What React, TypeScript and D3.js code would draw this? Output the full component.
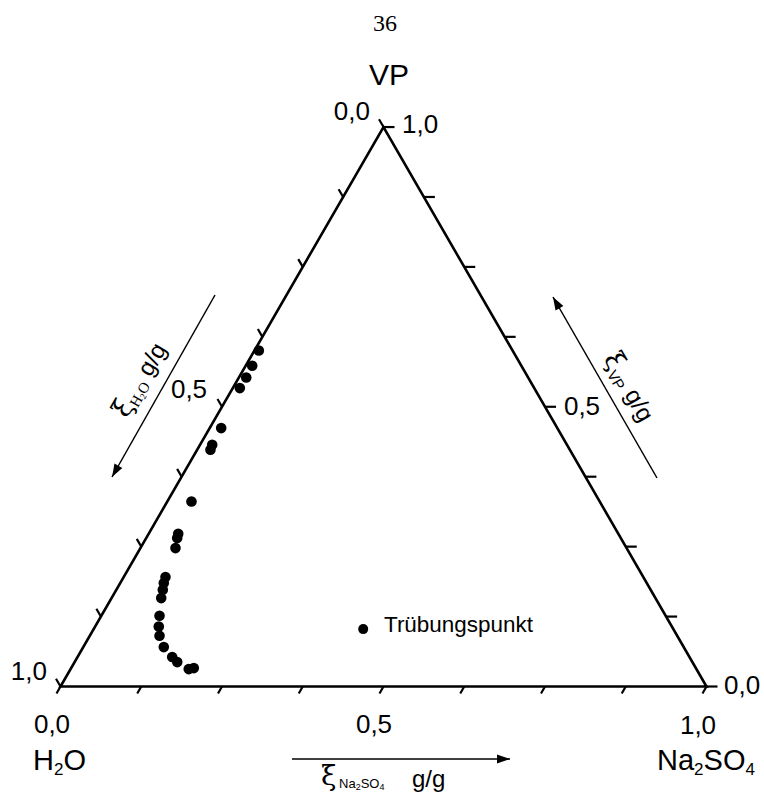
import React from "react";
import * as d3 from "d3";

const naFrac = [0.0067, 0.0101, 0.0113, 0.0109, 0.0178, 0.0188, 0.0206, 0.0374, 0.0457, 0.048, 0.0543, 0.0647, 0.0675, 0.0719, 0.0769, 0.0901, 0.0985, 0.108, 0.1247, 0.1466, 0.1589, 0.183, 0.1899];
const vpFrac = [0.6006, 0.5733, 0.5524, 0.5334, 0.4619, 0.4321, 0.4231, 0.3307, 0.273, 0.2653, 0.2474, 0.1956, 0.1848, 0.1729, 0.158, 0.1264, 0.1073, 0.0906, 0.0704, 0.0526, 0.0436, 0.0311, 0.0329];
const cloudNa = [0.4173];
const cloudVp = [0.1026];
const tickValues = [0, 0.125, 0.25, 0.375, 0.5, 0.625, 0.75, 0.875, 1];

const SANS = "'Liberation Sans', Arial, Helvetica, sans-serif";
const SERIF = "'Liberation Serif', 'Times New Roman', serif";
const GREEK = "'DejaVu Serif', 'Liberation Serif', serif";

const X0 = 60.5;
const X1 = 706.5;
const YB = 686.5;
const SIDE = X1 - X0;
const H = (SIDE * Math.sqrt(3)) / 2;

const xScale = d3.scaleLinear().domain([0, 1]).range([X0, X1]);
const yScale = d3.scaleLinear().domain([0, 1]).range([YB, YB - H]);
const proj = (na: number, vp: number): [number, number] => [xScale(na + vp / 2), yScale(vp)];

function arrowHead(tip: [number, number], from: [number, number], len = 13, half = 4.5) {
  const dx = tip[0] - from[0];
  const dy = tip[1] - from[1];
  const L = Math.hypot(dx, dy);
  const ux = dx / L, uy = dy / L;
  const bx = tip[0] - ux * len, by = tip[1] - uy * len;
  const px = -uy, py = ux;
  return `M${tip[0]},${tip[1]}L${bx + px * half},${by + py * half}L${bx - px * half},${by - py * half}Z`;
}

export default function App() {
  const tri = d3.line()([proj(0, 0), proj(1, 0), proj(0, 1)]) + "Z";
  const c30 = 0.5, s60 = Math.sqrt(3) / 2;

  const ticks: string[] = [];
  tickValues.forEach((t) => {
    const [bx, by] = proj(t, 0);
    ticks.push(`M${bx},${by}L${bx - c30 * 8},${by + s60 * 8}`);
    const [lx, ly] = proj(0, 1 - t);
    ticks.push(`M${lx},${ly}L${lx - c30 * 9},${ly - s60 * 9}`);
    const [rx, ry] = proj(1 - t, t);
    ticks.push(`M${rx},${ry}L${rx + 11},${ry}`);
  });

  const leftA: [number, number] = [215, 295];
  const leftB: [number, number] = [112, 477];
  const rightA: [number, number] = [657, 478];
  const rightB: [number, number] = [553, 297];
  const botA: [number, number] = [292, 759];
  const botB: [number, number] = [510, 759];

  return (
    <svg width={764} height={794} style={{ position: "absolute", left: 0, top: 0, background: "#fff" }}>
      <text x={385} y={31} fontFamily={SERIF} fontSize={24} textAnchor="middle">36</text>

      <path d={tri} fill="none" stroke="#000" strokeWidth={2.6} strokeLinejoin="miter" />
      {ticks.map((d, i) => (
        <path key={i} d={d} stroke="#000" strokeWidth={2.2} fill="none" />
      ))}

      {naFrac.map((na, i) => {
        const [x, y] = proj(na, vpFrac[i]);
        return <circle key={i} cx={x} cy={y} r={5.3} fill="#000" />;
      })}
      {cloudNa.map((na, i) => {
        const [x, y] = proj(na, cloudVp[i]);
        return <circle key={"c" + i} cx={x} cy={y} r={5} fill="#000" />;
      })}
      <text x={384} y={632} fontFamily={SANS} fontSize={22} textLength={149} lengthAdjust="spacingAndGlyphs">Trübungspunkt</text>

      {/* vertex labels */}
      <text x={389} y={85} fontFamily={SANS} fontSize={30} textAnchor="middle">VP</text>
      <text x={370} y={120} fontFamily={SANS} fontSize={26} textAnchor="end">0,0</text>
      <text x={402} y={133} fontFamily={SANS} fontSize={26}>1,0</text>

      <text x={47} y={680} fontFamily={SANS} fontSize={26} textAnchor="end">1,0</text>
      <text x={52} y={733} fontFamily={SANS} fontSize={26} textAnchor="middle">0,0</text>
      <text x={33} y={770} fontFamily={SANS} fontSize={29}>
        H<tspan fontSize={17} dy={5}>2</tspan><tspan dy={-5}>O</tspan>
      </text>

      <text x={724} y={694} fontFamily={SANS} fontSize={26}>0,0</text>
      <text x={698} y={734} fontFamily={SANS} fontSize={26} textAnchor="middle">1,0</text>
      <text x={657} y={770} fontFamily={SANS} fontSize={29}>
        Na<tspan fontSize={17} dy={5}>2</tspan><tspan dy={-5}>SO</tspan><tspan fontSize={17} dy={5}>4</tspan>
      </text>

      <text x={189} y={398} fontFamily={SANS} fontSize={26} textAnchor="middle">0,5</text>
      <text x={582} y={415} fontFamily={SANS} fontSize={26} textAnchor="middle">0,5</text>
      <text x={374} y={733} fontFamily={SANS} fontSize={26} textAnchor="middle">0,5</text>

      {/* axis arrows */}
      <line x1={leftA[0]} y1={leftA[1]} x2={leftB[0]} y2={leftB[1]} stroke="#000" strokeWidth={1.5} />
      <path d={arrowHead(leftB, leftA)} fill="#000" />
      <line x1={rightA[0]} y1={rightA[1]} x2={rightB[0]} y2={rightB[1]} stroke="#000" strokeWidth={1.5} />
      <path d={arrowHead(rightB, rightA)} fill="#000" />
      <line x1={botA[0]} y1={botA[1]} x2={botB[0]} y2={botB[1]} stroke="#000" strokeWidth={1.5} />
      <path d={arrowHead(botB, botA)} fill="#000" />

      {/* axis titles */}
      <g transform="translate(147,384) rotate(-60)">
        <text x={0} y={0} textAnchor="middle" fontFamily={SANS} fontSize={24}>
          <tspan fontFamily={GREEK} fontSize={27}>ξ</tspan>
          <tspan fontFamily={SERIF} fontSize={15} dy={4}>H</tspan>
          <tspan fontFamily={SERIF} fontSize={9} dy={2}>2</tspan>
          <tspan fontFamily={SERIF} fontSize={15} dy={-2}>O</tspan>
          <tspan dy={-4}> g/g</tspan>
        </text>
      </g>
      <g transform="translate(622,391) rotate(60)">
        <text x={0} y={0} textAnchor="middle" fontFamily={SANS} fontSize={24}>
          <tspan fontFamily={GREEK} fontSize={27}>ξ</tspan>
          <tspan fontSize={15} dy={5}>VP</tspan>
          <tspan dy={-5}> g/g</tspan>
        </text>
      </g>
      <text x={321} y={785} fontFamily={GREEK} fontSize={28}>ξ</text>
      <text x={339} y={788} fontFamily={SANS} fontSize={13}>
        Na<tspan fontSize={9} dy={2}>2</tspan><tspan dy={-2}>SO</tspan><tspan fontSize={9} dy={2}>4</tspan>
      </text>
      <text x={412} y={787} fontFamily={SANS} fontSize={24}>g/g</text>
    </svg>
  );
}
